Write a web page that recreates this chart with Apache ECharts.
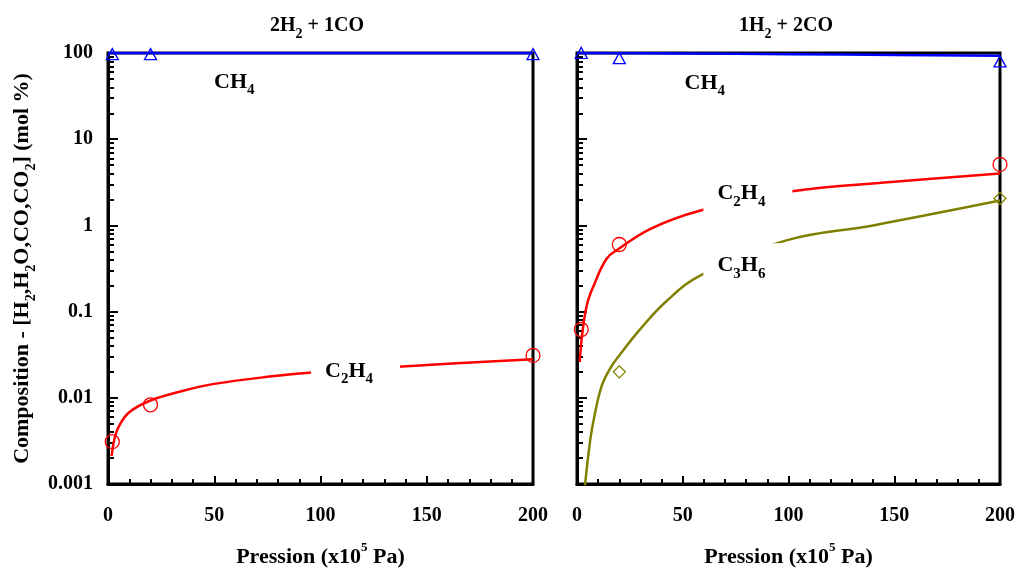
<!DOCTYPE html>
<html>
<head>
<meta charset="utf-8">
<script src="https://cdn.jsdelivr.net/npm/echarts@6/dist/echarts.min.js"></script>
<style>
html, body { margin: 0; padding: 0; background: #fff; }
#chart { width: 1019px; height: 569px; }
</style>
</head>
<body>
<div id="chart"></div>
<script>
// ---- panneau gauche : 2H2 + 1CO ----
var ch4LineL = [[0, 100], [200, 100]];
var ch4PtsL = [[2, 97], [20, 97], [200, 97]];
var c2h4LineL = [[1.7, 0.0021], [3, 0.0033], [5, 0.0046], [10, 0.0068], [20, 0.0093], [35, 0.012], [50, 0.0145], [75, 0.0175], [100, 0.020], [150, 0.024], [200, 0.028]];
var c2h4PtsL = [[2, 0.0031], [20, 0.0083], [200, 0.031]];

// ---- panneau droit : 1H2 + 2CO ----
var ch4LineR = [[0, 100], [50, 99], [100, 97], [150, 95], [200, 93]];
var ch4PtsR = [[2, 100], [20, 87], [200, 80]];
var c2h4LineR = [[1.3, 0.026], [2.4, 0.053], [4.7, 0.12], [7.9, 0.2], [14, 0.41], [20, 0.54], [35, 0.92], [58, 1.48], [100, 2.45], [150, 3.2], [200, 4.0]];
var c2h4PtsR = [[2, 0.062], [20, 0.6], [200, 5.1]];
var c3h6LineR = [[3.6, 0.00087], [6.3, 0.0033], [8.6, 0.0068], [11.8, 0.014], [15.7, 0.022], [20, 0.031], [30, 0.063], [42, 0.13], [58, 0.26], [99, 0.67], [140, 1.0], [200, 1.94]];
var c3h6PtsR = [[20, 0.02], [200, 2.05]];

// étiquettes des courbes (x, y, texte)
var labelsL = [[62.5, 46, 'CH{s|4}'], [116.5, 0.0205, 'C{s|2}H{s|4}']];
var labelsR = [[63.5, 45, 'CH{s|4}'], [80.8, 2.35, 'C{s|2}H{s|4}'], [80.8, 0.345, 'C{s|3}H{s|6}']];

var titles = ['2H{s|2} + 1CO', '1H{s|2} + 2CO'];
var xName = 'Pression (x10{p|5} Pa)';
var yName = 'Composition - [H{s|2},H{s|2}O,CO,CO{s|2}] (mol %)';

// petites graduations log (2..9 par décade)
var minorLog = [];
[0.001, 0.01, 0.1, 1, 10].forEach(function (d) {
    for (var k = 2; k <= 9; k++) minorLog.push(+(d * k).toPrecision(2));
});

var FONT = 'Liberation Serif';
var rich = {
    s: { fontFamily: FONT, fontWeight: 'bold', fontSize: 14, lineHeight: 14, verticalAlign: 'bottom' },
    p: { fontFamily: FONT, fontWeight: 'bold', fontSize: 13, lineHeight: 14, verticalAlign: 'top' }
};

function xAxis(grid) {
    return {
        type: 'value', gridIndex: grid, min: 0, max: 200, interval: 50,
        name: xName, nameLocation: 'middle', nameGap: 57,
        nameTextStyle: { fontFamily: FONT, fontWeight: 'bold', fontSize: 22, color: '#000', lineHeight: 32, rich: rich },
        axisLine: { lineStyle: { color: '#000', width: 3 } },
        axisTick: { inside: true, length: 8, lineStyle: { color: '#000', width: 2 } },
        minorTick: { show: true, splitNumber: 5, length: 5, lineStyle: { color: '#000', width: 2 } },
        axisLabel: { margin: 22, fontFamily: FONT, fontWeight: 'bold', fontSize: 20, color: '#000' },
        splitLine: { show: false }
    };
}
function yAxis(grid, withLabels) {
    return {
        type: 'log', logBase: 10, gridIndex: grid, min: 0.001, max: 100, position: 'left',
        name: withLabels ? yName : '', nameLocation: 'middle', nameGap: 70,
        nameTextStyle: { fontFamily: FONT, fontWeight: 'bold', fontSize: 22, color: '#000', lineHeight: 32, rich: rich },
        axisLine: { lineStyle: { color: '#000', width: 3 } },
        axisTick: { inside: true, length: 10, lineStyle: { color: '#000', width: 2 } },
        axisLabel: {
            show: withLabels, margin: 15, fontFamily: FONT, fontWeight: 'bold', fontSize: 20, color: '#000',
            formatter: function (v) { return String(+v.toPrecision(3)); }
        },
        splitLine: { show: false }
    };
}
function yMinor(grid) {
    return {
        type: 'log', logBase: 10, gridIndex: grid, min: 0.001, max: 100, position: 'left', offset: 0,
        axisLine: { show: false },
        axisTick: { show: true, inside: true, length: 6, customValues: minorLog, lineStyle: { color: '#000', width: 2 } },
        axisLabel: { show: false },
        splitLine: { show: false }
    };
}
function line(xi, yi, data, color) {
    return { type: 'line', xAxisIndex: xi, yAxisIndex: yi, data: data, showSymbol: false, smooth: 0.4,
        lineStyle: { color: color, width: 2.5 }, z: 3, silent: true };
}
function pts(xi, yi, data, color, symbol, size) {
    return { type: 'scatter', xAxisIndex: xi, yAxisIndex: yi, data: data, symbol: symbol, symbolSize: size,
        itemStyle: { color: 'rgba(255,255,255,0)', borderColor: color, borderWidth: 1.3, opacity: 1 }, z: 4, silent: true };
}
function labels(xi, yi, list) {
    return {
        type: 'scatter', xAxisIndex: xi, yAxisIndex: yi, symbolSize: 0.1, z: 5, silent: true,
        itemStyle: { color: '#fff', opacity: 1 },
        data: list.map(function (d) { return { value: [d[0], d[1]], name: d[2] }; }),
        label: {
            show: true, position: 'inside', formatter: '{b}', opacity: 1,
            fontFamily: FONT, fontWeight: 'bold', fontSize: 22, color: '#000', lineHeight: 32,
            backgroundColor: '#fff', padding: [6, 27, 6, 14],
            rich: {
                s: { fontFamily: FONT, fontWeight: 'bold', fontSize: 15, lineHeight: 14, verticalAlign: 'bottom' }
            }
        }
    };
}

var chart = echarts.init(document.getElementById('chart'));
chart.setOption({
    animation: false,
    backgroundColor: '#fff',
    title: [
        { text: titles[0], left: 312, top: 6, textAlign: 'center',
          textStyle: { fontFamily: FONT, fontWeight: 'bold', fontSize: 20, color: '#000', lineHeight: 30, rich: rich } },
        { text: titles[1], left: 781, top: 6, textAlign: 'center',
          textStyle: { fontFamily: FONT, fontWeight: 'bold', fontSize: 20, color: '#000', lineHeight: 30, rich: rich } }
    ],
    grid: [
        { left: 108, right: 486, top: 53, bottom: 85, show: true, borderColor: '#000', borderWidth: 3,
          containLabel: false, outerBoundsMode: 'none' },
        { left: 577, right: 19, top: 53, bottom: 85, show: true, borderColor: '#000', borderWidth: 3,
          containLabel: false, outerBoundsMode: 'none' }
    ],
    xAxis: [xAxis(0), xAxis(1)],
    yAxis: [yAxis(0, true), yMinor(0), yAxis(1, false), yMinor(1)],
    series: [
        line(0, 0, ch4LineL, '#0000ff'),
        pts(0, 0, ch4PtsL, '#0000ff', 'triangle', [12, 11]),
        line(0, 0, c2h4LineL, '#ff0000'),
        pts(0, 0, c2h4PtsL, '#ff0000', 'circle', 14),
        labels(0, 0, labelsL),

        line(1, 2, ch4LineR, '#0000ff'),
        pts(1, 2, ch4PtsR, '#0000ff', 'triangle', [12, 11]),
        line(1, 2, c2h4LineR, '#ff0000'),
        pts(1, 2, c2h4PtsR, '#ff0000', 'circle', 14),
        line(1, 2, c3h6LineR, '#808000'),
        pts(1, 2, c3h6PtsR, '#808000', 'diamond', 12),
        labels(1, 2, labelsR)
    ]
});
</script>
</body>
</html>
